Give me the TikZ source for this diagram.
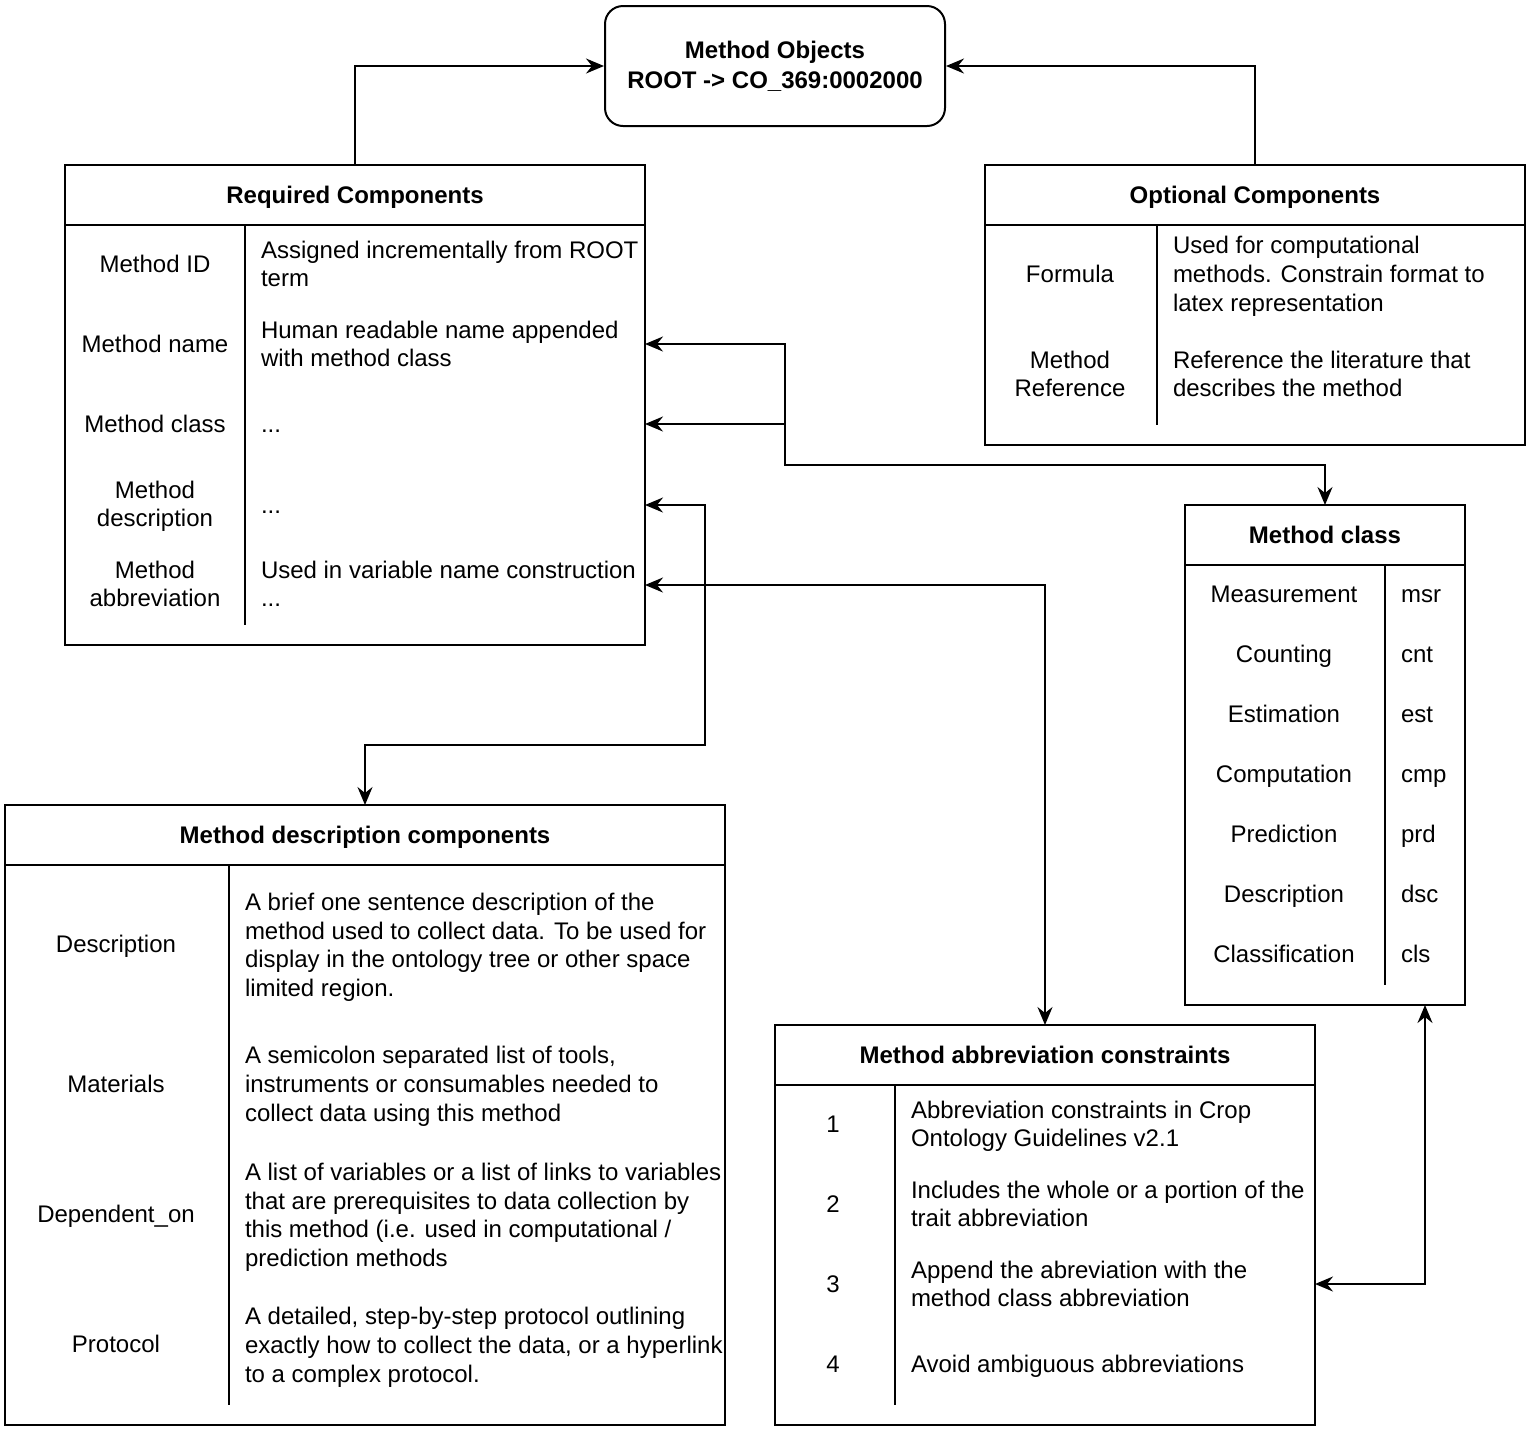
\documentclass[tikz,border=0pt]{standalone}
\usepackage{fontspec}
\setmainfont{Liberation Sans}
\usetikzlibrary{arrows.meta}

\newcommand{\rowstrut}{\rule[-3.2pt]{0pt}{14.4pt}}

\begin{document}
\begin{tikzpicture}[x=0.5pt,y=-0.5pt,line width=1pt,
	font=\fontsize{12}{14.4}\selectfont,
	>={Stealth[length=9pt,width=7.5pt,inset=3pt]},
	box/.style={draw,anchor=north west,inner sep=0pt,outer sep=0pt},
	hdr/.style={font=\fontsize{12}{14.4}\selectfont\bfseries,inner sep=0pt,
		execute at begin node=\rowstrut},
	lbl/.style={align=center,inner sep=0pt,
		execute at begin node=\rowstrut,execute at end node=\rowstrut},
	txt/.style={anchor=west,align=left,inner sep=0pt,
		execute at begin node=\rowstrut,execute at end node=\rowstrut}]
	\useasboundingbox (0,0) rectangle (1528,1432);
	
	% root
	\node[draw,rounded corners=9pt,minimum width=170pt,minimum height=60pt,align=center,
	font=\fontsize{12}{15}\selectfont\bfseries] (obj) at (775,66) {Method Objects\\ROOT -> CO\_369:0002000};
	
	% required components
	\node[box,minimum width=290pt,minimum height=240pt] (req) at (65,165) {};
	\node[hdr] (reqh) at (355,195) {Required Components};
	\draw (65,225) -- (645,225);
	\draw (245,225) -- (245,625);
	\node[lbl] (mid) at (155,264) {Method ID};
	\node[txt] (midt) at (260,267) {Assigned incrementally from ROOT\\term};
	\node[lbl] (mname) at (155,344) {Method name};
	\node[txt] (mnamet) at (260,347) {Human readable name appended\\with method class};
	\node[lbl] (mclass) at (155,424) {Method class};
	\node[txt] (mclasst) at (260,424) {...};
	\node[lbl] (mdesc) at (155,507) {Method\\description};
	\node[txt] (mdesct) at (260,505) {...};
	\node[lbl] (mabbr) at (155,587) {Method\\abbreviation};
	\node[txt] (mabbrt) at (260,587) {Used in variable name construction\\...};
	
	% optional components
	\node[box,minimum width=270pt,minimum height=140pt] (opt) at (985,165) {};
	\node[hdr] (opth) at (1255,195) {Optional Components};
	\draw (985,225) -- (1525,225);
	\draw (1157,225) -- (1157,425);
	\node[lbl] (form) at (1070,274) {Formula};
	\node[txt] (formt) at (1172,277) {Used for computational\\methods. Constrain format to\\latex representation};
	\node[lbl] (mref) at (1070,377) {Method\\Reference};
	\node[txt] (mreft) at (1172,377) {Reference the literature that\\describes the method};
	
	% method class
	\node[box,minimum width=140pt,minimum height=250pt] (mcls) at (1185,505) {};
	\node[hdr] (mclsh) at (1325,535) {Method class};
	\draw (1185,565) -- (1465,565);
	\draw (1385,565) -- (1385,985);
	\node[lbl] (k1) at (1284,594) {Measurement};
	\node[txt] (v1) at (1400,594) {msr};
	\node[lbl] (k2) at (1284,654) {Counting};
	\node[txt] (v2) at (1400,654) {cnt};
	\node[lbl] (k3) at (1284,714) {Estimation};
	\node[txt] (v3) at (1400,714) {est};
	\node[lbl] (k4) at (1284,774) {Computation};
	\node[txt] (v4) at (1400,774) {cmp};
	\node[lbl] (k5) at (1284,834) {Prediction};
	\node[txt] (v5) at (1400,834) {prd};
	\node[lbl] (k6) at (1284,894) {Description};
	\node[txt] (v6) at (1400,894) {dsc};
	\node[lbl] (k7) at (1284,954) {Classification};
	\node[txt] (v7) at (1400,954) {cls};
	
	% method description components
	\node[box,minimum width=360pt,minimum height=310pt] (mdc) at (5,805) {};
	\node[hdr] (mdch) at (365,835) {Method description components};
	\draw (5,865) -- (725,865);
	\draw (229,865) -- (229,1405);
	\node[lbl] (d1) at (116,944) {Description};
	\node[txt] (d1t) at (244,948) {A brief one sentence description of the\\method used to collect data. To be used for\\display in the ontology tree or other space\\limited region.};
	\node[lbl] (d2) at (116,1084) {Materials};
	\node[txt] (d2t) at (244,1087) {A semicolon separated list of tools,\\instruments or consumables needed to\\collect data using this method};
	\node[lbl] (d3) at (116,1214) {Dependent\_on};
	\node[txt] (d3t) at (244,1218) {A list of variables or a list of links to variables\\that are prerequisites to data collection by\\this method (i.e. used in computational /\\prediction methods};
	\node[lbl] (d4) at (116,1344) {Protocol};
	\node[txt] (d4t) at (244,1348) {A detailed, step-by-step protocol outlining\\exactly how to collect the data, or a hyperlink\\to a complex protocol.};
	
	% method abbreviation constraints
	\node[box,minimum width=270pt,minimum height=200pt] (mac) at (775,1025) {};
	\node[hdr] (mach) at (1045,1055) {Method abbreviation constraints};
	\draw (775,1085) -- (1315,1085);
	\draw (895,1085) -- (895,1405);
	\node[lbl] (c1) at (833,1124) {1};
	\node[txt] (c1t) at (910,1127) {Abbreviation constraints in Crop\\Ontology Guidelines v2.1};
	\node[lbl] (c2) at (833,1204) {2};
	\node[txt] (c2t) at (910,1207) {Includes the whole or a portion of the\\trait abbreviation};
	\node[lbl] (c3) at (833,1284) {3};
	\node[txt] (c3t) at (910,1287) {Append the abreviation with the\\method class abbreviation};
	\node[lbl] (c4) at (833,1364) {4};
	\node[txt] (c4t) at (910,1364) {Avoid ambiguous abbreviations};
	
	% connectors
	\coordinate (jn) at (785,465);
	\coordinate (bend) at (705,745);
	\coordinate (cb) at (1425,1005);
	
	\draw[->] (req.north) |- (obj.west);
	\draw[->] (opt.north) |- (obj.east);
	\draw[<->] (req.east |- mname) -| (jn) -| (mcls.north);
	\draw[->] (jn |- mclass) -- (req.east |- mclass);
	\draw[<->] (req.east |- mdesct) -| (bend) -| (mdc.north);
	\draw[<->] ([yshift=1pt]req.east |- mabbr) -| (mac.north);
	\draw[<->] (mac.east |- c3) -| (cb);
\end{tikzpicture}
\end{document}
